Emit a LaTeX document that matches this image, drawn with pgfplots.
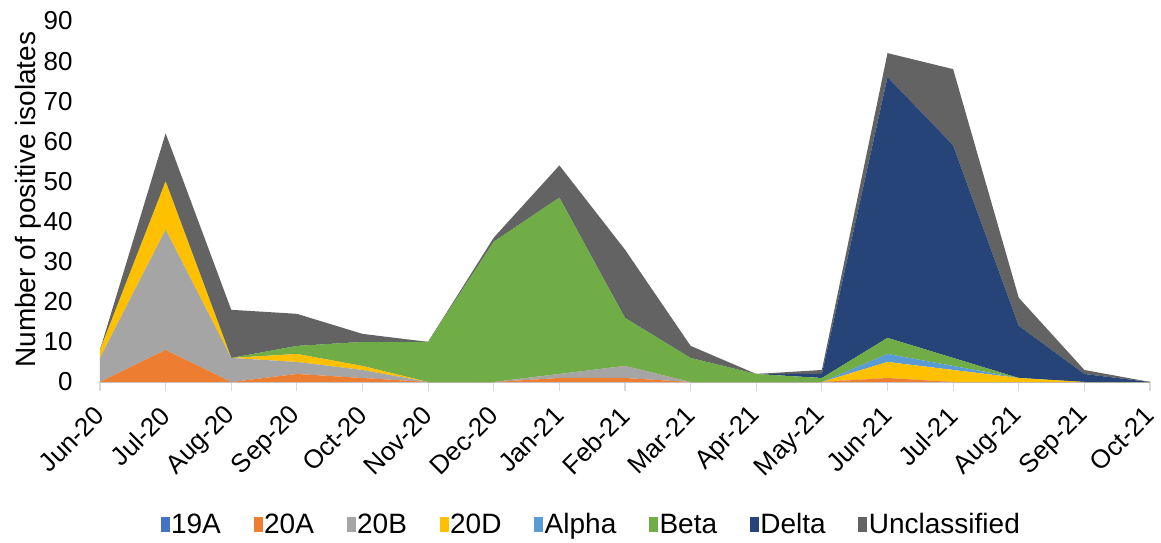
\documentclass[border=0pt]{standalone}
\usepackage{fontspec}
\setmainfont{Liberation Sans}
\usepackage{pgfplots}
\usepackage{pgfplotstable}
\pgfplotsset{compat=1.18}

\definecolor{c19A}{HTML}{4472C4}
\definecolor{c20A}{HTML}{ED7D31}
\definecolor{c20B}{HTML}{A5A5A5}
\definecolor{c20D}{HTML}{FFC000}
\definecolor{cAlpha}{HTML}{5B9BD5}
\definecolor{cBeta}{HTML}{70AD47}
\definecolor{cDelta}{HTML}{264478}
\definecolor{cUncl}{HTML}{636363}
\definecolor{axisgray}{HTML}{D9D9D9}

% monthly counts, Jun-20 (0) to Oct-21 (16)
\pgfplotstableread{
x s19A s20A s20B s20D Alpha Beta Delta Uncl
0  0 0 6  2  0 0  0  0
1  0 8 30 12 0 0  0  12
2  0 0 6  0  0 0  0  12
3  0 2 3  2  0 2  0  8
4  0 1 2  1  0 6  0  2
5  0 0 0  0  0 10 0  0
6  0 0 0  0  0 35 0  1
7  0 1 1  0  0 44 0  8
8  0 1 3  0  0 12 0  17
9  0 0 0  0  0 6  0  3
10 0 0 0  0  0 2  0  0
11 0 0 0  0  0 1  1  1
12 0 1 0  4  2 4  65 6
13 0 0 0  3  1 2  53 19
14 0 0 0  1  0 0  13 7
15 0 0 0  0  0 0  2  1
16 0 0 0  0  0 0  0  0
}\datatable

\begin{document}
\begin{tikzpicture}
\begin{axis}[
    scale only axis,
    width=525pt, height=180.5pt,
    xmin=0, xmax=16,
    ymin=0, ymax=90,
    stack plots=y,
    axis lines*=left,
    y axis line style={draw=none},
    x axis line style={draw=axisgray, line width=0.6pt},
    tick align=outside,
    major tick length=4.5pt,
    xtick={0,...,16},
    xticklabels={Jun-20,Jul-20,Aug-20,Sep-20,Oct-20,Nov-20,Dec-20,Jan-21,Feb-21,Mar-21,Apr-21,May-21,Jun-21,Jul-21,Aug-21,Sep-21,Oct-21},
    ytick={0,10,...,90},
    xtick style={draw=axisgray, line width=0.6pt},
    ytick style={draw=none},
    /pgf/number format/assume math mode=true,
    yticklabel style={font=\fontsize{13}{15}\selectfont, inner sep=0pt, anchor=east, xshift=-9pt},
    xticklabel style={font=\fontsize{13}{15}\selectfont, inner sep=0pt, yshift=-10pt, rotate=45, anchor=east},
    ylabel={Number of positive isolates},
    every axis y label/.style={at={(axis description cs:-0.0686,0.505)}, rotate=90, anchor=center, font=\fontsize{14}{16}\selectfont},
    legend columns=-1,
    legend style={at={(axis description cs:0.4676,-0.396)}, anchor=center, draw=none, fill=none,
        font=\fontsize{14}{16}\selectfont, nodes={inner sep=0.8pt},
        /tikz/every even column/.append style={column sep=15.5pt}},
    legend image code/.code={\fill[#1] (0pt,-3.5pt) rectangle (4.5pt,4pt);},
]
\addplot[fill=c19A, draw=none] table[x=x, y=s19A]{\datatable} \closedcycle;
\addlegendentry{19A}
\addplot[fill=c20A, draw=none] table[x=x, y=s20A]{\datatable} \closedcycle;
\addlegendentry{20A}
\addplot[fill=c20B, draw=none] table[x=x, y=s20B]{\datatable} \closedcycle;
\addlegendentry{20B}
\addplot[fill=c20D, draw=none] table[x=x, y=s20D]{\datatable} \closedcycle;
\addlegendentry{20D}
\addplot[fill=cAlpha, draw=none] table[x=x, y=Alpha]{\datatable} \closedcycle;
\addlegendentry{Alpha}
\addplot[fill=cBeta, draw=none] table[x=x, y=Beta]{\datatable} \closedcycle;
\addlegendentry{Beta}
\addplot[fill=cDelta, draw=none] table[x=x, y=Delta]{\datatable} \closedcycle;
\addlegendentry{Delta}
\addplot[fill=cUncl, draw=none] table[x=x, y=Uncl]{\datatable} \closedcycle;
\addlegendentry{Unclassified}
\end{axis}
\pgfresetboundingbox
\path[use as bounding box] (-50pt,-80pt) rectangle (530.5pt,191pt);
\end{tikzpicture}
\end{document}
